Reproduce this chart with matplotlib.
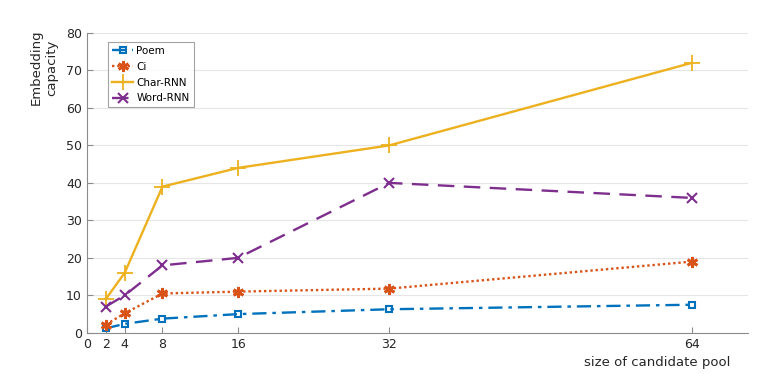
import matplotlib
matplotlib.use("Agg")
import matplotlib.pyplot as plt

x = [2, 4, 8, 16, 32, 64]
poem = [1.2, 2.4, 3.8, 5.0, 6.3, 7.5]
ci = [2.2, 5.2, 10.5, 11.0, 11.8, 19.0]
char_rnn = [9, 16, 39, 44, 50, 72]
word_rnn = [7, 10, 18, 20, 40, 36]
xticks = [0, 2, 4, 8, 16, 32, 64]
yticks = [0, 10, 20, 30, 40, 50, 60, 70, 80]

plt.rcParams['font.family'] = ['DejaVu Sans']
fig = plt.figure(figsize=(7.62, 3.74), dpi=100)
ax = fig.add_axes([0.114, 0.110, 0.868, 0.802])

ax.plot(x, poem, color='#0072BD', linestyle=(0, (6, 2.5, 1.5, 2.5)), linewidth=1.7, marker='s',
        markersize=5, markerfacecolor='none', markeredgewidth=1.5, label='Poem')
ax.plot(x, ci, color='#D95319', linestyle=(0, (1, 1.2)), linewidth=1.7, marker=(6, 2, 0),
        markersize=8, markeredgewidth=2, label='Ci')
ax.plot(x, char_rnn, color='#EDB120', linestyle='-', linewidth=1.7, marker='+',
        markersize=12, markeredgewidth=1.3, label='Char-RNN')
ax.plot(x, word_rnn, color='#7E2F8E', linestyle=(0, (7, 4)), linewidth=1.7, marker='x',
        markersize=7, markeredgewidth=1.5, label='Word-RNN')

ax.set_xlim(0, 70)
ax.set_ylim(0, 80)
ax.set_xticks(xticks)
ax.set_yticks(yticks)
ax.yaxis.grid(True, color='#e6e6e6', linewidth=0.8)
ax.set_axisbelow(True)
for s in ['top', 'right']:
    ax.spines[s].set_visible(False)
for s in ['left', 'bottom']:
    ax.spines[s].set_color('#8c8c8c')
ax.tick_params(axis='both', colors='#8c8c8c', labelcolor='#262626', labelsize=9,
               direction='in', length=4, width=0.8)

fig.text(0.058, 0.82, 'Embedding\ncapacity', rotation=90, ha='center', va='center',
         fontsize=9.5, color='#262626')
fig.text(0.958, 0.03, 'size of candidate pool', ha='right', va='center',
         fontsize=9.5, color='#262626')

leg = ax.legend(loc='upper left', bbox_to_anchor=(0.032, 0.97), fontsize=7.5,
                frameon=True, fancybox=False, edgecolor='#8c8c8c',
                handlelength=2.0, handletextpad=0.3, borderpad=0.4,
                labelspacing=0.55, borderaxespad=0)
leg.get_frame().set_linewidth(0.8)

fig.savefig('out.png', dpi=100)
